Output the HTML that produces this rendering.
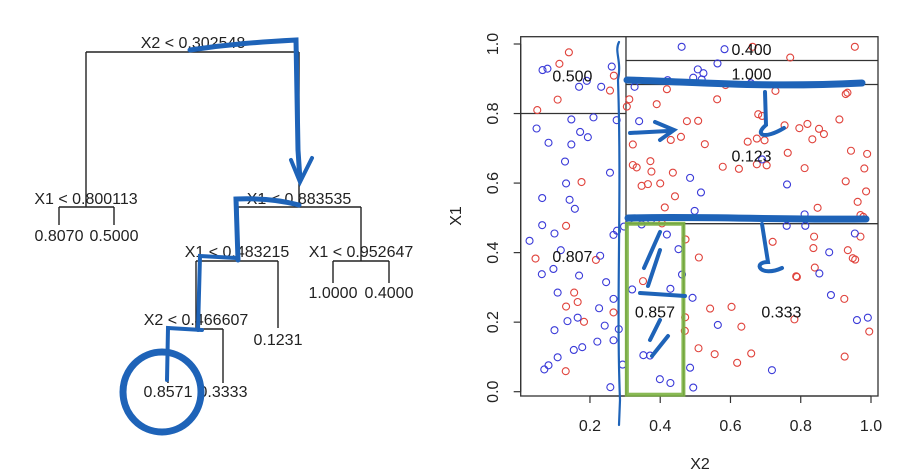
<!DOCTYPE html>
<html><head><meta charset="utf-8"><style>
html,body{margin:0;padding:0;background:#fff;}
svg{display:block;font-family:"Liberation Sans",sans-serif;}
</style></head><body>
<svg id="s" width="904" height="470" viewBox="0 0 904 470">
<g id="tree" stroke="#222" stroke-width="1.4" fill="none">
<path d="M86,52 H299 M86,52 V207 M299,52 V207 M59,207 H114 M59,207 V225 M114,207 V225 M238,207 H361 M238,207 V261 M361,207 V261 M196,261 H278 M278,261 V328 M196,261 V329 M333,261 H389 M333,261 V283 M389,261 V283 M168,329 H223 M168,329 V383 M223,329 V383"/>
</g>
<g font-size="16" fill="#222" text-anchor="middle">
<text x="193" y="48">X2 &lt; 0.302548</text>
<text x="86" y="204">X1 &lt; 0.800113</text>
<text x="59" y="241">0.8070</text>
<text x="114" y="241">0.5000</text>
<text x="299" y="204">X1 &lt; 0.883535</text>
<text x="237" y="257">X1 &lt; 0.483215</text>
<text x="361" y="257">X1 &lt; 0.952647</text>
<text x="333" y="298">1.0000</text>
<text x="389" y="298">0.4000</text>
<text x="278" y="345">0.1231</text>
<text x="196" y="325">X2 &lt; 0.466607</text>
<text x="168" y="397">0.8571</text>
<text x="223" y="397">0.3333</text>
</g>
<g stroke="#1e63b8" fill="none" stroke-linecap="round">
<path d="M190,50 C230,44 260,42 296,40 L298,150 L300,180" stroke-width="5"/>
<path d="M291,160 L300,182 L312,158" stroke-width="4"/>
<path d="M299,205 C280,200 260,198 236,199 L238,260" stroke-width="5"/>
<path d="M236,258 L200,256 L198,330" stroke-width="4"/>
<path d="M202,330 L168,328 L167,380" stroke-width="4"/>
<ellipse cx="162" cy="392" rx="39" ry="40" stroke-width="7"/>
</g>
<g id="plot"></g>
</svg>
<script>
const redX=[0.663,0.954,0.140,0.770,0.113,0.268,0.257,0.419,0.586,0.728,0.928,0.933,0.108,0.312,0.562,0.390,0.305,0.050,0.476,0.508,0.910,0.679,0.690,0.796,0.819,0.852,0.866,0.833,0.754,0.459,0.430,0.527,0.322,0.649,0.675,0.697,0.943,0.763,0.989,0.372,0.322,0.333,0.578,0.624,0.675,0.703,0.811,0.981,0.375,0.436,0.176,0.347,0.365,0.400,0.928,0.442,0.986,0.413,0.962,0.848,0.970,0.978,0.405,0.132,0.472,0.970,0.838,0.720,0.836,0.934,0.045,0.217,0.510,0.948,0.955,0.840,0.787,0.789,0.351,0.155,0.924,0.165,0.132,0.542,0.603,0.267,0.183,0.471,0.782,0.631,0.470,0.995,0.509,0.555,0.659,0.925,0.619,0.131];
const redY=[0.992,0.992,0.976,0.961,0.943,0.909,0.866,0.870,0.882,0.865,0.856,0.860,0.840,0.841,0.841,0.827,0.820,0.810,0.778,0.779,0.783,0.798,0.793,0.758,0.770,0.756,0.741,0.726,0.766,0.733,0.724,0.712,0.711,0.719,0.728,0.723,0.693,0.687,0.684,0.663,0.652,0.645,0.647,0.641,0.654,0.651,0.643,0.642,0.633,0.630,0.603,0.592,0.597,0.599,0.605,0.562,0.576,0.530,0.546,0.529,0.508,0.503,0.484,0.477,0.438,0.446,0.446,0.431,0.413,0.407,0.383,0.379,0.386,0.384,0.380,0.357,0.332,0.330,0.318,0.285,0.267,0.258,0.245,0.239,0.244,0.228,0.201,0.214,0.208,0.187,0.175,0.173,0.125,0.108,0.110,0.101,0.083,0.059];
const blueX=[0.461,0.583,0.065,0.079,0.262,0.563,0.507,0.523,0.494,0.518,0.421,0.191,0.169,0.232,0.327,0.658,0.210,0.147,0.276,0.340,0.048,0.172,0.194,0.082,0.147,0.129,0.690,0.257,0.132,0.485,0.761,0.516,0.064,0.142,0.157,0.498,0.811,0.312,0.374,0.347,0.064,0.760,0.813,0.297,0.277,0.267,0.099,0.419,0.954,0.028,0.452,0.881,0.117,0.229,0.096,0.063,0.853,0.169,0.246,0.462,0.108,0.886,0.320,0.429,0.492,0.267,0.226,0.165,0.136,0.960,0.991,0.242,0.564,0.282,0.099,0.221,0.267,0.154,0.178,0.108,0.352,0.371,0.082,0.070,0.293,0.485,0.718,0.399,0.429,0.258,0.494];
const blueY=[0.992,0.985,0.925,0.929,0.935,0.944,0.927,0.916,0.903,0.898,0.896,0.894,0.877,0.877,0.877,0.887,0.789,0.783,0.781,0.778,0.757,0.747,0.732,0.716,0.711,0.662,0.668,0.630,0.599,0.615,0.596,0.573,0.557,0.552,0.526,0.520,0.510,0.496,0.494,0.481,0.479,0.477,0.477,0.475,0.463,0.451,0.455,0.452,0.455,0.434,0.410,0.401,0.407,0.391,0.353,0.338,0.340,0.334,0.315,0.337,0.285,0.278,0.294,0.296,0.270,0.267,0.240,0.213,0.203,0.206,0.213,0.190,0.192,0.180,0.177,0.144,0.148,0.120,0.128,0.099,0.105,0.104,0.076,0.064,0.078,0.069,0.062,0.036,0.025,0.013,0.012];
const xTicks=[0.2,0.4,0.6,0.8,1.0];
const yTicks=[0.0,0.2,0.4,0.6,0.8,1.0];
const regionLabels=["0.500","0.400","1.000","0.123","0.807","0.857","0.333"];
const regionLabelX=[0.15,0.66,0.66,0.66,0.15,0.385,0.745];
const regionLabelY=[0.91,0.985,0.915,0.68,0.39,0.23,0.23];
const splitX2a=0.302548, splitX1a=0.800113, splitX1b=0.883535, splitX1c=0.952647, splitX1d=0.483215, splitX2b=0.466607;

const NS="http://www.w3.org/2000/svg";
const g=document.getElementById('plot');
const X=v=>519.7+v*351.3, Y=v=>391.7-v*347.7;
const L=520.7,R=878,T=36.7,B=396;
function mk(tag,attrs,parent){const e=document.createElementNS(NS,tag);for(const k in attrs)e.setAttribute(k,attrs[k]);(parent||g).appendChild(e);return e;}
function line(x1,y1,x2,y2,name){const e=mk('line',{x1,y1,x2,y2,stroke:'#333','stroke-width':1.3});

}
line(X(splitX2a),T,X(splitX2a),B,'split-x2-0302548');
line(L,Y(splitX1a),X(splitX2a),Y(splitX1a),'split-x1-0800113');
line(X(splitX2a),Y(splitX1b),R,Y(splitX1b),'split-x1-0883535');
line(X(splitX2a),Y(splitX1c),R,Y(splitX1c),'split-x1-0952647');
line(X(splitX2a),Y(splitX1d),R,Y(splitX1d),'split-x1-0483215');
line(X(splitX2b),B,X(splitX2b),Y(splitX1d),'split-x2-0466607');
for(let i=0;i<redX.length;i++){const c=mk('circle',{cx:X(redX[i]),cy:Y(redY[i]),r:3.5,fill:'none',stroke:'#e0433c','stroke-width':1.1});

}
for(let i=0;i<blueX.length;i++){const c=mk('circle',{cx:X(blueX[i]),cy:Y(blueY[i]),r:3.5,fill:'none',stroke:'#3a3ad8','stroke-width':1.1});

}
for(let i=0;i<regionLabels.length;i++){const t=mk('text',{x:X(regionLabelX[i]),y:Y(regionLabelY[i])+6,'font-size':16,fill:'#111','text-anchor':'middle'});t.textContent=regionLabels[i];

}
const bx=mk('rect',{x:L,y:T,width:R-L,height:B-T,fill:'none',stroke:'#333','stroke-width':1.3});


mk('line',{x1:X(0.2),y1:B,x2:X(1.0),y2:B,stroke:'#333','stroke-width':1.2});
for(const v of xTicks){mk('line',{x1:X(v),y1:B,x2:X(v),y2:B+7,stroke:'#333','stroke-width':1.2});
const t=mk('text',{x:X(v),y:431,'font-size':16,fill:'#222','text-anchor':'middle'});t.textContent=v.toFixed(1);

}
mk('line',{x1:L,y1:Y(0),x2:L,y2:Y(1),stroke:'#333','stroke-width':1.2});
for(const v of yTicks){mk('line',{x1:L,y1:Y(v),x2:L-7,y2:Y(v),stroke:'#333','stroke-width':1.2});
const t=mk('text',{x:0,y:0,'font-size':16,fill:'#222','text-anchor':'middle',transform:`translate(498,${Y(v)}) rotate(-90)`});t.textContent=v.toFixed(1);

}
const xt=mk('text',{x:700,y:469,'font-size':16,fill:'#222','text-anchor':'middle'});xt.textContent='X2';


const yt=mk('text',{x:0,y:0,'font-size':16,fill:'#222','text-anchor':'middle',transform:'translate(461,216) rotate(-90)'});yt.textContent='X1';


const ann=mk('g',{fill:'none','stroke-linecap':'round'});


mk('rect',{x:X(0.305),y:Y(0.483),width:X(0.466)-X(0.305),height:Y(0)-Y(0.483)+3,stroke:'#7cb342','stroke-width':4,opacity:0.9},ann);
mk('path',{d:'M619,42 C614,52 622,60 618,80 C622,200 616,300 620,400 L619,425',stroke:'#1e63b8','stroke-width':2.2},ann);
mk('path',{d:'M627,80 C700,82 760,88 862,83',stroke:'#1e63b8','stroke-width':7},ann);
mk('path',{d:'M628,218 C700,216 780,220 866,219',stroke:'#1e63b8','stroke-width':7},ann);
mk('path',{d:'M630,133 L668,131 M655,122 L674,130 L660,140',stroke:'#1e63b8','stroke-width':4},ann);
mk('path',{d:'M765,92 L766,125 C754,135 764,140 784,128',stroke:'#1e63b8','stroke-width':4},ann);
mk('path',{d:'M762,224 L768,262 C752,262 760,278 782,268',stroke:'#1e63b8','stroke-width':4},ann);
mk('path',{d:'M660,232 L644,268 M660,250 L648,286 M640,293 L685,296 M660,320 L650,340 M668,336 L652,356',stroke:'#1e63b8','stroke-width':4},ann);
</script>
</body></html>
